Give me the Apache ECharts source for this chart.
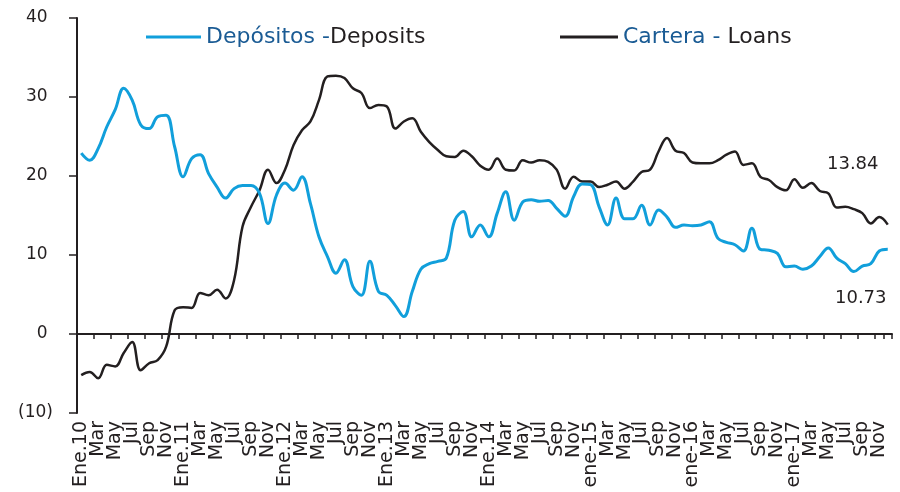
<!DOCTYPE html>
<html>
<head>
<meta charset="utf-8">
<script src="https://cdn.jsdelivr.net/npm/echarts@6/dist/echarts.min.js"></script>
<style>
  html, body { margin: 0; padding: 0; background: #fff; }
  #chart { width: 900px; height: 492px; }
</style>
</head>
<body>
<div id="chart"></div>
<script>
// etiquetas de enero por año y meses
const janLabels = ['Ene.10', 'Ene.11', 'Ene.12', 'Ene.13', 'Ene.14', 'ene-15', 'ene-16', 'ene-17'];
const monthNames = ['Ene', 'Feb', 'Mar', 'Abr', 'May', 'Jun', 'Jul', 'Ago', 'Sep', 'Oct', 'Nov', 'Dic'];

// Depósitos - Deposits (% anual)
const deposits = [
  22.9, 22.0, 23.5, 26.2, 28.4, 31.1, 29.6, 26.5, 26.0, 27.5, 27.7, 23.7,
  19.9, 22.2, 22.7, 20.3, 18.6, 17.2, 18.4, 18.8, 18.8, 17.8, 14.0, 17.6,
  19.1, 18.2, 19.9, 16.5, 12.3, 9.8, 7.7, 9.4, 6.0, 4.9, 9.2, 5.4,
  4.9, 3.6, 2.2, 5.4, 8.2, 8.9, 9.2, 9.6, 14.4, 15.5, 12.3, 13.8,
  12.3, 15.3, 18.0, 14.4, 16.7, 17.0, 16.8, 16.9, 15.9, 14.9, 17.4, 19.0,
  18.9, 16.1, 13.8, 17.2, 14.6, 14.6, 16.3, 13.8, 15.7, 14.8, 13.5, 13.8,
  13.7, 13.8, 14.2, 12.1, 11.6, 11.3, 10.5, 13.4, 10.7, 10.6, 10.2, 8.5,
  8.6, 8.2, 8.6, 9.8, 10.9, 9.6, 8.9, 7.9, 8.6, 8.9, 10.5, 10.73
];

// Cartera - Loans (% anual)
const loans = [
  -5.2, -4.8, -5.6, -3.9, -4.1, -2.4, -1.0, -4.6, -3.7, -3.3, -1.6, 3.0,
  3.4, 3.3, 5.2, 4.9, 5.6, 4.5, 6.8, 13.6, 16.1, 18.2, 20.8, 19.1,
  20.8, 23.9, 25.8, 26.9, 29.6, 32.6, 32.7, 32.4, 31.1, 30.5, 28.6, 29.0,
  28.8, 26.0, 26.9, 27.3, 25.6, 24.3, 23.3, 22.5, 22.4, 23.2, 22.5, 21.3,
  20.8, 22.2, 20.8, 20.7, 22.0, 21.7, 22.0, 21.8, 20.8, 18.4, 19.9, 19.3,
  19.3, 18.6, 18.9, 19.3, 18.4, 19.3, 20.5, 20.8, 23.1, 24.8, 23.2, 22.9,
  21.7, 21.6, 21.6, 22.0, 22.7, 23.1, 21.4, 21.6, 19.9, 19.5, 18.6, 18.2,
  19.6, 18.5, 19.1, 18.1, 17.8, 16.0, 16.1, 15.8, 15.3, 14.0, 14.8, 13.84
];

const categories = [];
janLabels.forEach(jan => {
  monthNames.forEach((m, k) => categories.push(k === 0 ? jan : m));
});

const last = categories.length - 1;
const font = 'DejaVu Sans';
const ink = '#231f20';
const blueLine = '#119fdb';
const blueText = '#1a5b94';

const chart = echarts.init(document.getElementById('chart'));

const legendText = {
  rich: {
    a: { fontFamily: font, fontSize: 22, color: blueText },
    b: { fontFamily: font, fontSize: 22, color: ink }
  }
};

const option = {
  animation: false,
  grid: { left: 77, right: 8, top: 18, bottom: 79, containLabel: false, outerBoundsMode: 'none' },
  legend: [
    {
      data: ['Depósitos'],
      left: 141,
      top: 21,
      icon: 'rect',
      itemWidth: 55,
      itemHeight: 3,
      formatter: () => '{a|Depósitos -}{b|Deposits}',
      textStyle: legendText
    },
    {
      data: ['Cartera'],
      left: 555,
      top: 21,
      icon: 'rect',
      itemWidth: 58,
      itemHeight: 3,
      formatter: () => '{a|Cartera - }{b|Loans}',
      textStyle: legendText
    }
  ],
  xAxis: {
    type: 'category',
    data: categories,
    boundaryGap: true,
    axisLine: { onZero: true, lineStyle: { color: ink, width: 2 } },
    axisTick: { show: true, interval: 1, length: 5, lineStyle: { color: ink, width: 1.5 } },
    axisLabel: {
      // every label is placed, odd months are left blank (one label each two months)
      interval: 0,
      rotate: 90,
      margin: 8,
      hideOverlap: false,
      fontFamily: font,
      fontSize: 19,
      color: ink,
      formatter: (value, idx) => (idx % 2 === 0 ? value : '')
    },
    splitLine: { show: false }
  },
  yAxis: {
    type: 'value',
    min: -10,
    max: 40,
    interval: 10,
    axisLine: { show: true, lineStyle: { color: ink, width: 2 } },
    axisTick: { show: true, length: 8, lineStyle: { color: ink, width: 1.5 } },
    axisLabel: {
      margin: 24,
      fontFamily: font,
      fontSize: 17,
      padding: [6, 0, 0, 0],
      color: ink,
      formatter: v => (v < 0 ? '(' + (-v) + ')' : v + ' ')
    },
    splitLine: { show: false }
  },
  series: [
    {
      name: 'Depósitos',
      type: 'line',
      data: deposits,
      smooth: 0.4,
      showSymbol: false,
      color: blueLine,
      lineStyle: { color: blueLine, width: 3 },
      z: 3,
      markPoint: {
        symbol: 'circle',
        symbolSize: 0,
        label: {
          show: true,
          position: 'inside',
          offset: [-27, 49],
          fontFamily: font,
          fontSize: 18,
          color: ink,
          formatter: p => p.value.toFixed(2)
        },
        data: [{ coord: [last, deposits[last]], value: deposits[last] }]
      }
    },
    {
      name: 'Cartera',
      type: 'line',
      data: loans,
      smooth: 0.4,
      showSymbol: false,
      color: ink,
      lineStyle: { color: ink, width: 2.5 },
      z: 2,
      markPoint: {
        symbol: 'circle',
        symbolSize: 0,
        label: {
          show: true,
          position: 'inside',
          offset: [-35, -60],
          fontFamily: font,
          fontSize: 18,
          color: ink,
          formatter: p => p.value.toFixed(2)
        },
        data: [{ coord: [last, loans[last]], value: loans[last] }]
      }
    }
  ]
};

chart.setOption(option);
</script>
</body>
</html>
